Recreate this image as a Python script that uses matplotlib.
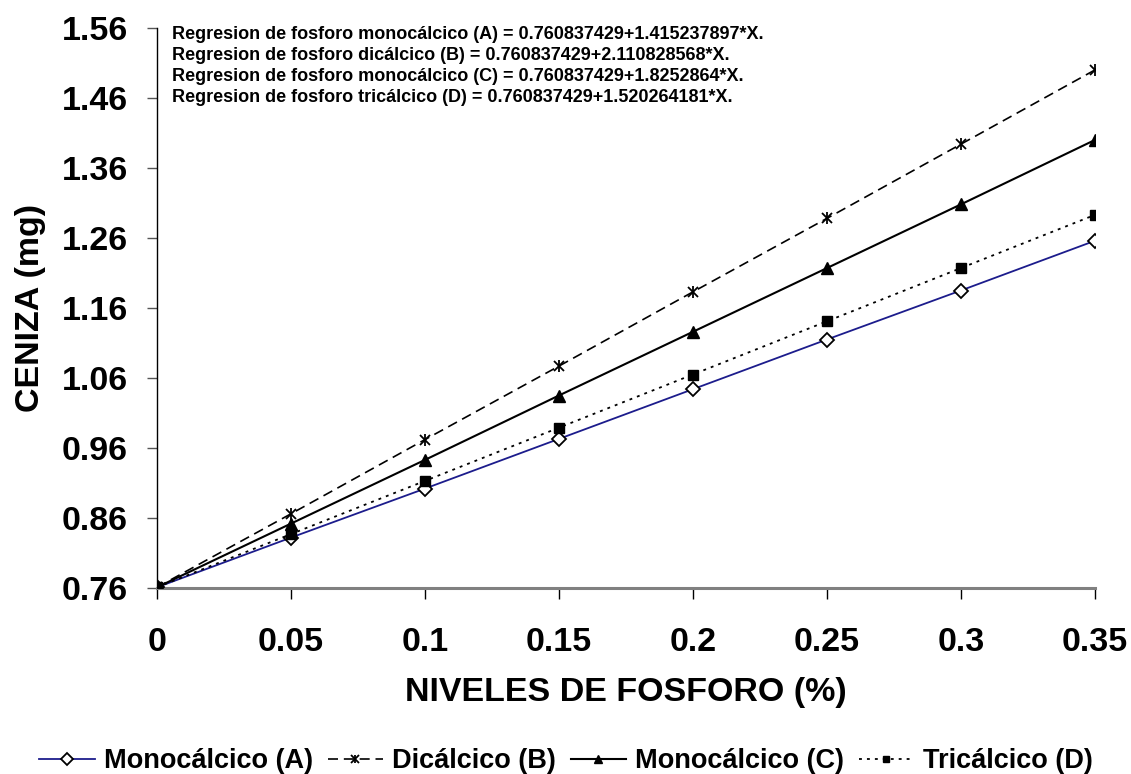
import numpy as np
import matplotlib
matplotlib.use("Agg")
from matplotlib import pyplot as plt
from matplotlib.ticker import FixedLocator

plt.rcParams['font.family'] = ['Liberation Sans', 'DejaVu Sans']
plt.rcParams['font.weight'] = 'bold'

# niveles de fosforo (%)
niveles = [0, 0.05, 0.1, 0.15, 0.2, 0.25, 0.3, 0.35]

# ceniza (mg)
mono_a = [0.761, 0.832, 0.902, 0.973, 1.044, 1.115, 1.185, 1.256]
dical_b = [0.761, 0.866, 0.972, 1.077, 1.183, 1.288, 1.394, 1.500]
mono_c = [0.761, 0.852, 0.943, 1.035, 1.126, 1.217, 1.308, 1.400]
trical_d = [0.761, 0.837, 0.913, 0.989, 1.065, 1.141, 1.217, 1.293]

y_ticks = [0.76, 0.86, 0.96, 1.06, 1.16, 1.26, 1.36, 1.46, 1.56]
x_ticks = [0, 0.05, 0.1, 0.15, 0.2, 0.25, 0.3, 0.35]
x_ticklabels = ["0", "0.05", "0.1", "0.15", "0.2", "0.25", "0.3", "0.35"]

ecuaciones = [
    "Regresion de fosforo monocálcico (A) = 0.760837429+1.415237897*X.",
    "Regresion de fosforo dicálcico (B) = 0.760837429+2.110828568*X.",
    "Regresion de fosforo monocálcico (C) = 0.760837429+1.8252864*X.",
    "Regresion de fosforo tricálcico (D) = 0.760837429+1.520264181*X.",
]

fig = plt.figure(figsize=(11.31, 7.74), dpi=100)
ax = fig.add_axes([0.1388, 0.2403, 0.968 - 0.1388, 0.9638 - 0.2403])

la, = ax.plot(niveles, mono_a, color='#1c1c8c', lw=1.3, marker='D', ms=7.5,
              mfc='white', mec='black', mew=1.3, zorder=3)
lb, = ax.plot(niveles, dical_b, color='black', lw=1.2, ls=(0, (6, 3.5)), marker='x',
              ms=7, mec='black', mew=1.3, zorder=3)
lb2, = ax.plot(niveles, dical_b, ls='none', marker='|', ms=8, mec='black', mew=1.3,
               zorder=3)
lc, = ax.plot(niveles, mono_c, color='black', lw=1.5, marker='^', ms=8.5,
              mfc='black', mec='black', zorder=3)
ld, = ax.plot(niveles, trical_d, color='black', lw=1.3, ls=(0, (1.6, 2.8)), marker='s',
              ms=6.5, mfc='black', mec='black', zorder=3)

ax.set_xlim(0, 0.35)
ax.set_ylim(0.76, 1.56)
ax.xaxis.set_major_locator(FixedLocator(x_ticks))
ax.set_xticklabels(x_ticklabels)
ax.yaxis.set_major_locator(FixedLocator(y_ticks))
ax.set_yticklabels(["%.2f" % v for v in y_ticks])

for s in ['top', 'right']:
    ax.spines[s].set_visible(False)
ax.spines['left'].set_color('black')
ax.spines['left'].set_linewidth(1.0)
ax.spines['bottom'].set_color('#808080')
ax.spines['bottom'].set_linewidth(2.2)
ax.tick_params(axis='y', length=7.2, width=1.0, color='#555555', pad=13.7, labelsize=24.5)
ax.tick_params(axis='x', length=8, width=1.0, color='black', pad=20, labelsize=24.5)

ax.set_xlabel("NIVELES DE FOSFORO (%)", fontsize=24.5, fontweight='bold', labelpad=14)
ax.set_ylabel("CENIZA (mg)", fontsize=24.5, fontweight='bold', labelpad=11)

for i, t in enumerate(ecuaciones):
    fig.text(172 / 1131, 1 - (39 + i * 21) / 774, t, fontsize=13,
             fontweight='bold', va='baseline', ha='left')

ax.legend([la, (lb, lb2), lc, ld],
          ['Monocálcico (A)', 'Dicálcico (B)', 'Monocálcico (C)', 'Tricálcico (D)'],
          loc='center', bbox_to_anchor=(566 / 1131, 1 - 761 / 774),
          bbox_transform=fig.transFigure, ncol=4, frameon=False,
          prop={'size': 19.5, 'weight': 'bold'}, handlelength=2.04,
          handletextpad=0.33, columnspacing=0.55, borderaxespad=0, borderpad=0,
          markerscale=0.75)

plt.savefig("out.png", dpi=100)
